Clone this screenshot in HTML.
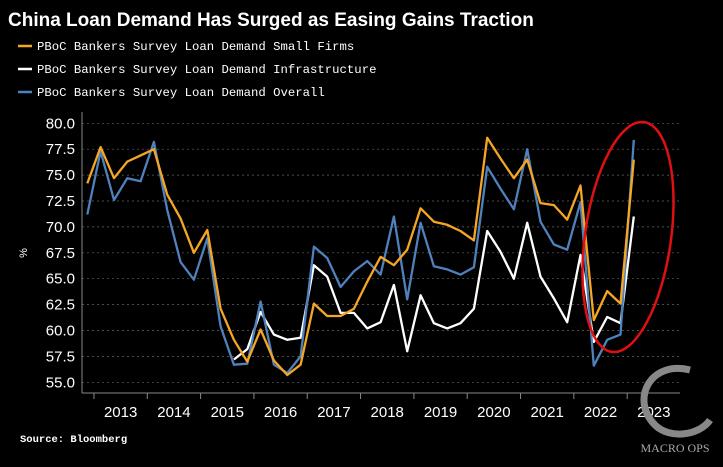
<!DOCTYPE html>
<html><head><meta charset="utf-8"><style>
body{margin:0;background:#000;width:723px;height:462px;overflow:hidden;font-family:"Liberation Sans",sans-serif}
</style></head><body>
<svg width="723" height="462" viewBox="0 0 723 462">
<rect width="723" height="462" fill="#000"/>
<text x="8" y="26" fill="#fff" font-size="19" font-weight="bold">China Loan Demand Has Surged as Easing Gains Traction</text>
<g font-family="Liberation Mono, monospace" font-size="12.3" fill="#fff">
<line x1="18" y1="46" x2="32" y2="46" stroke="#f5a623" stroke-width="2.5"/>
<text x="37" y="50">PBoC Bankers Survey Loan Demand Small Firms</text>
<line x1="18" y1="69" x2="32" y2="69" stroke="#fff" stroke-width="2.5"/>
<text x="37" y="73">PBoC Bankers Survey Loan Demand Infrastructure</text>
<line x1="18" y1="92" x2="32" y2="92" stroke="#4f81bd" stroke-width="2.5"/>
<text x="37" y="96">PBoC Bankers Survey Loan Demand Overall</text>
</g>
<g id="grid"></g><g id="ylab"></g><g id="xax"></g><g id="series"></g>
<text transform="translate(27,253) rotate(-90)" fill="#fff" font-size="11" text-anchor="middle">%</text>
<ellipse cx="628" cy="237" rx="43" ry="116" transform="rotate(8 628 237)" fill="none" stroke="#e01010" stroke-width="2.5"/>
<text x="20" y="442" fill="#fff" font-family="Liberation Mono, monospace" font-size="10.5" font-weight="bold">Source: Bloomberg</text>
<g>
<path d="M690 370 C650 360 630 400 655 425 C670 440 700 435 710 420" fill="none" stroke="#888" stroke-width="7"/>
<text x="675" y="452" fill="#aaa" font-family="Liberation Serif, serif" font-size="12" text-anchor="middle">MACRO OPS</text>
</g>
</svg>
<script>
const yTicks=[55,57.5,60,62.5,65,67.5,70,72.5,75,77.5,80];
const years=["2013","2014","2015","2016","2017","2018","2019","2020","2021","2022","2023"];
const smallFirms=[74.2,77.7,74.7,76.3,76.9,77.5,73.1,70.8,67.5,69.7,62.1,59.1,57.0,60.1,57.1,55.7,56.7,62.6,61.4,61.4,62.1,64.7,67.1,66.3,67.8,71.8,70.5,70.2,69.6,68.7,78.6,76.6,74.7,76.5,72.3,72.1,70.7,74.0,61.0,63.8,62.6,76.5];
const overall=[71.2,77.3,72.6,74.7,74.4,78.2,71.6,66.6,64.9,68.9,60.4,56.7,56.8,62.8,56.7,55.9,57.5,68.1,67.0,64.2,65.7,66.7,65.4,71.0,63.0,70.4,66.2,65.9,65.4,66.1,75.8,73.7,71.7,77.5,70.5,68.3,67.8,72.4,56.6,59.1,59.6,78.4];
const infra=[null,null,null,null,null,null,null,null,null,null,null,57.2,58.2,61.8,59.6,59.1,59.3,66.3,65.2,61.7,61.7,60.2,60.8,64.4,58.0,63.4,60.7,60.2,60.7,62.1,69.6,67.6,65.0,70.4,65.2,63.1,60.8,67.3,58.9,61.3,60.7,71.0];
const NS="http://www.w3.org/2000/svg";
const y=v=>123.3+(80-v)*10.36;
const x=i=>87.3+i*13.33;
function mk(tag,attrs,parent){const e=document.createElementNS(NS,tag);for(const k in attrs)e.setAttribute(k,attrs[k]);parent.appendChild(e);return e;}
const grid=document.getElementById('grid'),yl=document.getElementById('ylab'),xa=document.getElementById('xax'),sg=document.getElementById('series');
yTicks.forEach(t=>{
 const l=mk('line',{x1:82,x2:680,y1:y(t),y2:y(t),stroke:'#666','stroke-width':0.7,'stroke-dasharray':'2,3'},grid);
 
 
 const tx=mk('text',{x:75,y:y(t)+5,fill:'#fff','font-size':15,'text-anchor':'end'},yl);
 tx.textContent=t.toFixed(1);
 
 
});
const ax=mk('line',{x1:82,x2:680,y1:393,y2:393,stroke:'#888','stroke-width':1},xa);


const yax=mk('line',{x1:82,x2:82,y1:112,y2:393,stroke:'#888','stroke-width':1},xa);


years.forEach((yr,k)=>{
 const sx=x(0.5+4*k);
 const tk=mk('line',{x1:sx,x2:sx,y1:393,y2:399,stroke:'#888'},xa);
 
 
 const tx=mk('text',{x:x(2.5+4*k),y:417,fill:'#fff','font-size':15,'text-anchor':'middle'},xa);
 tx.textContent=yr;
 
 
});
function line(arr,color,name){
 let d='',pen=false;
 arr.forEach((v,i)=>{if(v==null){pen=false;return;}d+=(pen?'L':'M')+x(i).toFixed(1)+' '+y(v).toFixed(1)+' ';pen=true;});
 const p=mk('path',{d:d,fill:'none',stroke:color,'stroke-width':2.3,'stroke-linejoin':'round'},sg);
 
 
}
line(infra,'#ffffff','series-infrastructure');
line(overall,'#4f81bd','series-overall');
line(smallFirms,'#f5a623','series-small-firms');
</script>
</body></html>
